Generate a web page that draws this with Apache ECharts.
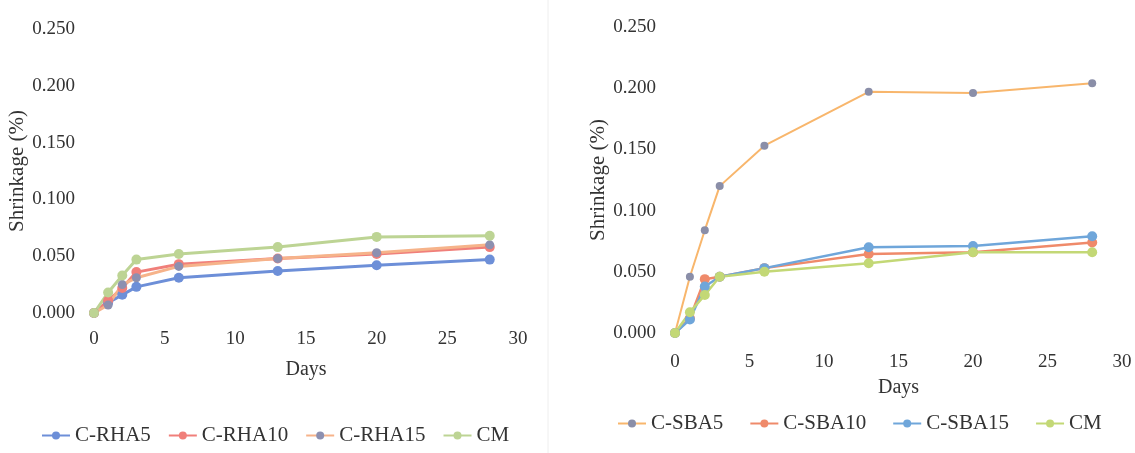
<!DOCTYPE html>
<html>
<head>
<meta charset="utf-8">
<script src="https://cdn.jsdelivr.net/npm/echarts@6/dist/echarts.min.js"></script>
<style>html,body{margin:0;padding:0;background:#fff;}#c{width:1135px;height:453px;}</style>
</head>
<body>
<div id="c"></div>
<script>
const days = [0, 1, 2, 3, 6, 13, 20, 28];
const xTicks = [0, 5, 10, 15, 20, 25, 30];
const yTicks = [0, 0.05, 0.10, 0.15, 0.20, 0.25];

const rhaNames = ['C-RHA5', 'C-RHA10', 'C-RHA15', 'CM'];
const rha5  = [0, 0.009, 0.016, 0.023, 0.031, 0.037, 0.042, 0.047];
const rha10 = [0, 0.011, 0.022, 0.036, 0.043, 0.048, 0.052, 0.058];
const rha15 = [0, 0.007, 0.025, 0.031, 0.041, 0.048, 0.053, 0.060];
const cmLeft = [0, 0.018, 0.033, 0.047, 0.052, 0.058, 0.067, 0.068];

const sbaNames = ['C-SBA5', 'C-SBA10', 'C-SBA15', 'CM'];
const sba5  = [0, 0.046, 0.084, 0.120, 0.153, 0.197, 0.196, 0.204];
const sba10 = [0, 0.012, 0.044, 0.046, 0.053, 0.0645, 0.066, 0.074];
const sba15 = [0, 0.011, 0.038, 0.046, 0.053, 0.070, 0.071, 0.079];
const cmRight = [0, 0.017, 0.031, 0.046, 0.050, 0.057, 0.066, 0.066];

const FONT = '"Liberation Serif", "Times New Roman", "DejaVu Serif", serif';
const TXT = '#333';

function pairs(vals) { return days.map((d, i) => [d, vals[i]]); }

function mkSeries(name, vals, idx, lineColor, markColor, width, size) {
  return {
    type: 'line', name: name, xAxisIndex: idx, yAxisIndex: idx,
    data: pairs(vals), symbol: 'circle', symbolSize: size,
    lineStyle: { color: lineColor, width: width },
    itemStyle: { color: markColor },
    emphasis: { disabled: true }
  };
}

function xAxis(idx) {
  return {
    type: 'value', gridIndex: idx, min: 0, max: 30, interval: 5,
    name: 'Days', nameLocation: 'middle', nameGap: idx === 0 ? 47 : 45,
    nameTextStyle: { fontFamily: FONT, fontSize: 20, color: TXT },
    axisLine: { show: false }, axisTick: { show: false }, splitLine: { show: false },
    axisLabel: { fontFamily: FONT, fontSize: 19, color: TXT, margin: idx === 0 ? 17 : 20 }
  };
}
function yAxis(idx) {
  return {
    type: 'value', gridIndex: idx, min: 0, max: 0.25, interval: 0.05,
    name: 'Shrinkage (%)', nameLocation: 'middle', nameGap: idx === 0 ? 61 : 66,
    nameTextStyle: { fontFamily: FONT, fontSize: 21, color: TXT },
    axisLine: { show: false }, axisTick: { show: false }, splitLine: { show: false },
    axisLabel: { fontFamily: FONT, fontSize: 19, color: TXT, margin: 19,
      formatter: v => v.toFixed(3) }
  };
}

const chart = echarts.init(document.getElementById('c'), null, { renderer: 'canvas' });
chart.setOption({
  backgroundColor: '#fff',
  animation: false,
  grid: [
    { left: 94, right: 617, top: 29, bottom: 140 },
    { left: 675, right: 13, top: 27, bottom: 120 }
  ],
  xAxis: [xAxis(0), xAxis(1)],
  yAxis: [yAxis(0), yAxis(1)],
  legend: [
    { data: rhaNames.map(n => ({ name: n })), left: 36, top: 420, itemWidth: 28, itemHeight: 10, itemGap: 17,
      textStyle: { fontFamily: FONT, fontSize: 21, color: TXT },
      formatter: n => n, selectedMode: false },
    { data: ['C-SBA5', 'C-SBA10', 'C-SBA15', 'CM '], left: 612, top: 408, itemWidth: 28, itemHeight: 10, itemGap: 26,
      textStyle: { fontFamily: FONT, fontSize: 21, color: TXT },
      formatter: n => n.trim(), selectedMode: false }
  ],
  graphic: [
    { type: 'line', shape: { x1: 548, y1: 0, x2: 548, y2: 453 }, style: { stroke: '#eeeeee', lineWidth: 1 } }
  ],
  series: [
    mkSeries('C-RHA5', rha5, 0, '#6d8fd8', '#6d8fd8', 3, 10),
    mkSeries('C-RHA10', rha10, 0, '#f07f7a', '#f07f7a', 3, 10),
    mkSeries('C-RHA15', rha15, 0, '#f6b38a', '#8d90b0', 3, 9),
    mkSeries('CM', cmLeft, 0, '#bdd494', '#bdd494', 3, 10),
    mkSeries('C-SBA5', sba5, 1, '#f8b66c', '#8a8ea8', 2, 8),
    mkSeries('C-SBA10', sba10, 1, '#ef8a6a', '#ef8a6a', 2.5, 10),
    mkSeries('C-SBA15', sba15, 1, '#6fa6da', '#6fa6da', 2.5, 10),
    mkSeries('CM ', cmRight, 1, '#c3d876', '#c3d876', 2.5, 10)
  ]
});
</script>
</body>
</html>
